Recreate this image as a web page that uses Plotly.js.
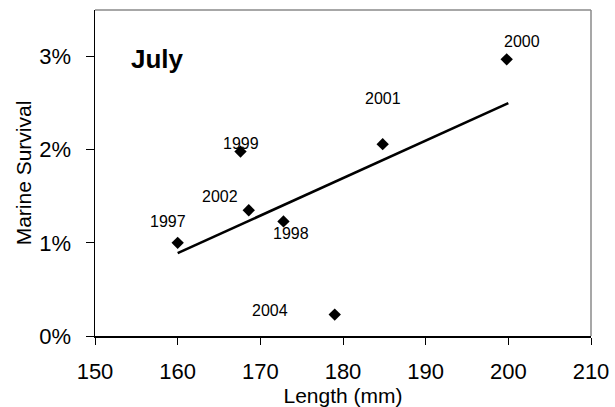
<!DOCTYPE html>
<html><head><meta charset="utf-8">
<script src="https://cdn.plot.ly/plotly-3.0.1.min.js"></script>
<style>html,body{margin:0;padding:0;background:#fff}#chart{width:615px;height:407px}</style>
</head><body><div id="chart"></div>
<script>
const years = ["1997","1998","1999","2000","2001","2002","2004"];
const lengthMm = [160.0, 172.8, 167.6, 199.8, 184.8, 168.6, 179.0];
const survival = [0.0100, 0.0123, 0.0198, 0.0297, 0.0206, 0.0135, 0.0023];
const trendX = [160, 200];
const trendY = [0.0089, 0.0250];
// label offsets in pixels (dx, dy up)
const labelDx = [-10, 8, 1, 15, 0, -29, -65];
const labelDy = [21, -12, 8, 18, 46, 14, 4];

const F = "Arial, 'Liberation Sans', sans-serif";
const annotations = years.map((t,i)=>({
  x: lengthMm[i], y: survival[i], xref:'x', yref:'y', text: t, showarrow:false,
  xshift: labelDx[i], yshift: labelDy[i], font:{family:F, size:16, color:'#000'}
}));
annotations.push({x:0.068, y:0.85, xref:'paper', yref:'paper', xanchor:'left', yanchor:'middle',
  text:'<b>July</b>', showarrow:false, font:{family:F, size:26, color:'#000'}});

const data = [
  {x: trendX, y: trendY, mode:'lines', line:{color:'#000', width:2.6}, hoverinfo:'skip'},
  {x: lengthMm, y: survival, mode:'markers', marker:{symbol:'diamond', size:9.5, color:'#000'}}
];
const layout = {
  width:615, height:407, showlegend:false,
  margin:{l:95, r:24, t:10, b:71},
  paper_bgcolor:'#fff', plot_bgcolor:'#fff',
  font:{family:F, color:'#000'},
  xaxis:{range:[150,210], dtick:10, tick0:150, showgrid:false, zeroline:false,
    showline:true, linecolor:'#000', linewidth:1.5, ticks:'outside', ticklen:7, tickcolor:'#000', tickwidth:1,
    ticklabelstandoff:8,
    tickfont:{family:F, size:22}, title:{text:'Length (mm)', font:{family:F, size:21}, standoff:0}},
  yaxis:{range:[0,0.035], tickvals:[0,0.01,0.02,0.03], ticktext:['0%','1%','2%','3%'], showgrid:false, zeroline:false,
    showline:true, linecolor:'#000', linewidth:1.5, ticks:'outside', ticklen:8, tickcolor:'#000', tickwidth:1,
    ticklabelstandoff:10,
    tickfont:{family:F, size:22}, title:{text:'Marine Survival', font:{family:F, size:21}, standoff:2}},
  shapes:[
    {type:'line', xref:'paper', yref:'paper', x0:0, x1:1, y0:1, y1:1, line:{color:'#8a8a8a', width:1.5}},
    {type:'line', xref:'paper', yref:'paper', x0:1, x1:1, y0:0, y1:1, line:{color:'#8a8a8a', width:1.5}}
  ],
  annotations: annotations
};
Plotly.newPlot('chart', data, layout, {displayModeBar:false, staticPlot:true});
</script></body></html>
